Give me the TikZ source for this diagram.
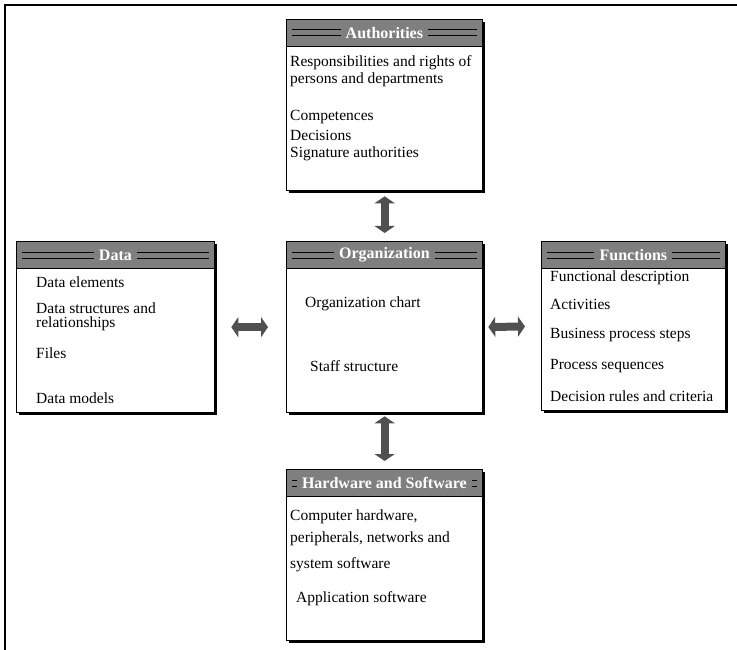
\documentclass[tikz,border=0pt]{standalone}
\usepackage{fontspec}
\setmainfont{Liberation Serif}
\usetikzlibrary{arrows.meta,shadows,calc}

\definecolor{hdrgray}{HTML}{7F7F7F}
\definecolor{arrgray}{HTML}{505050}

\tikzset{
  x=1pt, y=-1pt,
  panel/.style={draw=black, line width=1.3pt, fill=white, anchor=north west,
    inner sep=0pt, drop shadow={shadow xshift=2pt, shadow yshift=-2pt, fill=black, opacity=1}},
  hdrbar/.style={fill=hdrgray, draw=black, line width=0.8pt, anchor=north west, inner sep=0pt},
  hdrtext/.style={text=white, font=\fontsize{16}{18}\selectfont\bfseries, inner sep=2pt},
  stripe/.style={draw=black, line width=0.8pt},
  body/.style={anchor=west, font=\fontsize{15.5}{17}\selectfont, inner sep=0pt, align=left},
  bigarrow/.style={draw=arrgray, line width=8pt,
    arrows={Triangle[length=7pt,width=20pt]-Triangle[length=7pt,width=20pt]}}
}

% panel with title bar: #1 name, #2 x, #3 y, #4 width, #5 height, #6 title
\newcommand{\infopanel}[6]{%
  \node[panel, minimum width=#4, minimum height=#5] (#1) at (#2,#3) {};
  \node[hdrbar, minimum width=#4, minimum height=27] (#1h) at (#2,#3) {};
  \node[hdrtext] (#1t) at (#1h.center) {#6};
  \draw[stripe] ($(#1h.west)+(6,-3)$) -- ($(#1t.west)+(-3,-3)$);
  \draw[stripe] ($(#1h.west)+(6,3)$) -- ($(#1t.west)+(-3,3)$);
  \draw[stripe] ($(#1h.east)+(-6,-3)$) -- ($(#1t.east)+(3,-3)$);
  \draw[stripe] ($(#1h.east)+(-6,3)$) -- ($(#1t.east)+(3,3)$);
}

\begin{document}
\begin{tikzpicture}
\useasboundingbox (0,0) rectangle (737,650);

% page rule along the top and left edges
\draw[line width=1.5pt] (737,5) -- (5,5) -- (5,650);

\infopanel{auth}{286}{19}{196}{171}{Authorities}
\infopanel{data}{16}{241}{198}{171}{Data}
\infopanel{org}{286}{241}{196}{171}{Organization}
\infopanel{func}{541}{241}{184}{169}{Functions}
\infopanel{hw}{286}{469}{196}{171}{Hardware and Software}

% Authorities
\node[body] (a1) at (290,63) {Responsibilities and rights of};
\node[body] (a2) at (290,80) {persons and departments};
\node[body] (a3) at (290,117) {Competences};
\node[body] (a4) at (290,135) {Decisions};
\node[body] (a5) at (290,154) {Signature authorities};

% Data
\node[body] (d1) at (36,282) {Data elements};
\node[body] (d2) at (36,308) {Data structures and};
\node[body] (d3) at (36,324) {relationships};
\node[body] (d4) at (36,353) {Files};
\node[body] (d5) at (36,398) {Data models};

% Organization
\node[body] (o1) at (305,304) {Organization chart};
\node[body] (o2) at (310,366) {Staff structure};

% Functions
\node[body] (f1) at (550,278) {Functional description};
\node[body] (f2) at (550,304) {Activities};
\node[body] (f3) at (550,335) {Business process steps};
\node[body] (f4) at (550,366) {Process sequences};
\node[body] (f5) at (550,396) {Decision rules and criteria};

% Hardware and Software
\node[body] (h1) at (290,517) {Computer hardware,};
\node[body] (h2) at (290,539) {peripherals, networks and};
\node[body] (h3) at (290,565) {system software};
\node[body] (h4) at (296,599) {Application software};

% connections between the centre panel and its neighbours
\draw[bigarrow, shorten <=5pt, shorten >=8pt] (auth.south) -- (org.north);
\draw[bigarrow, shorten <=3pt, shorten >=8pt] (org.south) -- (hw.north);
\draw[bigarrow, shorten <=16pt, shorten >=18pt] (data.east) -- (org.west);
\draw[bigarrow, shorten <=5pt, shorten >=16pt] (org.east) -- (func.west);
\end{tikzpicture}
\end{document}
